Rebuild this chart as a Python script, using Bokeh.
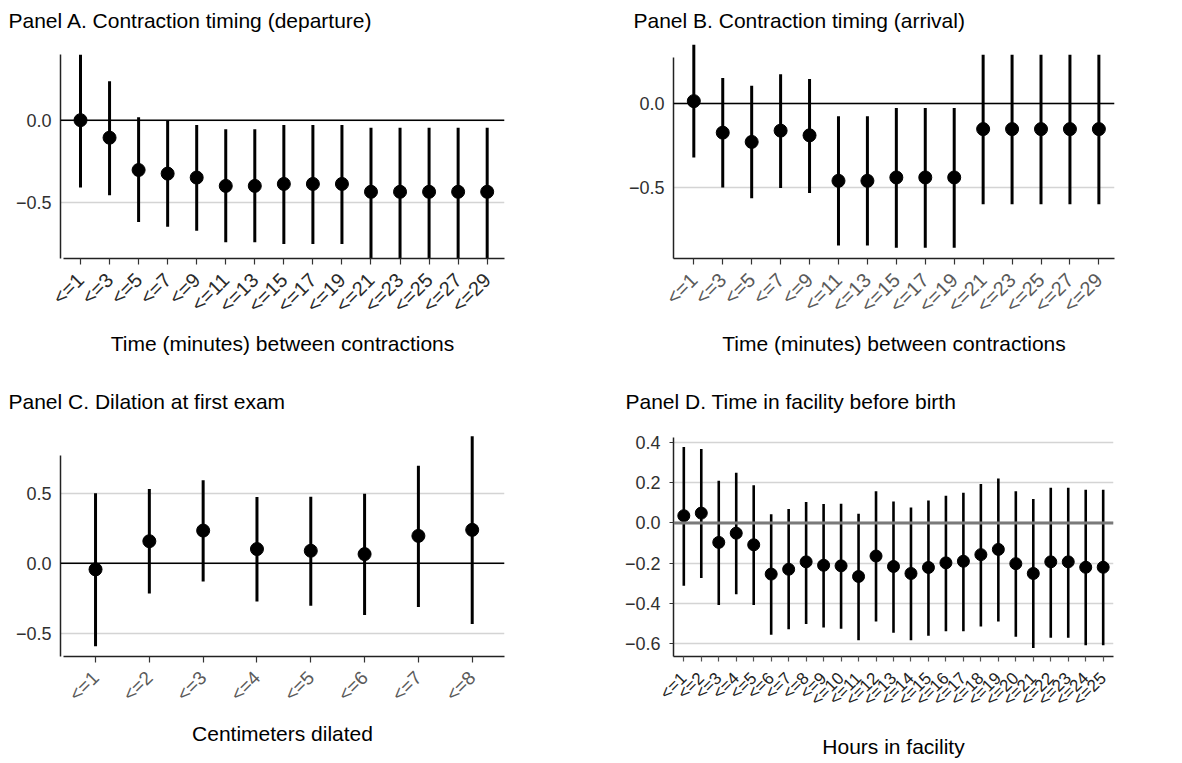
import math
from bokeh.plotting import figure
from bokeh.layouts import column, row
from bokeh.models import Range1d, FixedTicker, Span, ColumnDataSource
from bokeh.embed import file_html
from bokeh.resources import INLINE

# ---------------- data ----------------
a_labels = ["<=1", "<=3", "<=5", "<=7", "<=9", "<=11", "<=13", "<=15", "<=17", "<=19",
            "<=21", "<=23", "<=25", "<=27", "<=29"]
a_est = [0.00, -0.107, -0.304, -0.326, -0.350, -0.401, -0.401, -0.389, -0.389, -0.389,
         -0.437, -0.437, -0.437, -0.437, -0.437]
a_lo = [-0.411, -0.458, -0.622, -0.650, -0.674, -0.745, -0.745, -0.755, -0.755, -0.755,
        -0.844, -0.844, -0.844, -0.844, -0.844]
a_hi = [0.399, 0.237, 0.018, 0.0, -0.030, -0.055, -0.055, -0.030, -0.030, -0.030,
        -0.047, -0.047, -0.047, -0.047, -0.047]

b_labels = a_labels
b_est = [0.014, -0.173, -0.228, -0.161, -0.189, -0.459, -0.459, -0.439, -0.439, -0.439,
         -0.152, -0.152, -0.152, -0.152, -0.152]
b_lo = [-0.321, -0.498, -0.563, -0.502, -0.531, -0.843, -0.843, -0.856, -0.856, -0.856,
        -0.598, -0.598, -0.598, -0.598, -0.598]
b_hi = [0.348, 0.152, 0.106, 0.173, 0.146, -0.075, -0.075, -0.026, -0.026, -0.026,
        0.289, 0.289, 0.289, 0.289, 0.289]

c_labels = ["<=1", "<=2", "<=3", "<=4", "<=5", "<=6", "<=7", "<=8"]
c_est = [-0.043, 0.158, 0.234, 0.102, 0.090, 0.066, 0.196, 0.239]
c_lo = [-0.591, -0.215, -0.130, -0.272, -0.303, -0.369, -0.312, -0.433]
c_hi = [0.501, 0.530, 0.593, 0.473, 0.475, 0.496, 0.697, 0.908]

d_labels = ["<=%d" % h for h in range(1, 26)]
d_est = [0.036, 0.049, -0.097, -0.051, -0.109, -0.255, -0.231, -0.194, -0.211, -0.214,
         -0.267, -0.165, -0.217, -0.252, -0.222, -0.199, -0.191, -0.158, -0.132, -0.203,
         -0.252, -0.194, -0.194, -0.221, -0.221]
d_lo = [-0.313, -0.275, -0.409, -0.356, -0.409, -0.557, -0.530, -0.504, -0.521, -0.527,
        -0.585, -0.491, -0.547, -0.585, -0.563, -0.540, -0.540, -0.517, -0.491, -0.567,
        -0.623, -0.572, -0.572, -0.610, -0.610]
d_hi = [0.379, 0.369, 0.211, 0.250, 0.188, 0.043, 0.069, 0.105, 0.094, 0.096,
        0.046, 0.158, 0.107, 0.077, 0.112, 0.135, 0.150, 0.194, 0.221, 0.158,
        0.119, 0.176, 0.176, 0.165, 0.165]

y_ticks_a = [-0.5, 0.0]
y_ticks_b = [-0.5, 0.0]
y_ticks_c = [-0.5, 0.0, 0.5]
y_ticks_d = [-0.6, -0.4, -0.2, 0.0, 0.2, 0.4]

FONT = "Liberation Sans"


def fmt(v):
    s = "%.1f" % v
    if s.startswith("-"):
        s = "\u2212" + s[1:]
    if s == "\u22120.0":
        s = "0.0"
    return s


def panel(title, labels, est, lo, hi, xlabel, yticks, width, height, mb, xr, yr,
          ybounds, xbounds, title_offset, tick_color, zero_color, zero_width,
          y_tick_out, x_tick_color, x_label_size, x_label_standoff, x_tick_out,
          dot_size, bar_width, title_standoff, label_standoff):
    p = figure(width=width, height=height, output_backend="svg", toolbar_location=None,
               x_range=Range1d(*xr), y_range=Range1d(*yr),
               min_border_left=mb[0], min_border_right=mb[1],
               min_border_top=mb[2], min_border_bottom=mb[3])
    p.outline_line_color = None
    p.background_fill_color = "white"
    p.border_fill_color = "white"

    p.title.text = title
    p.title.align = "left"
    p.title.vertical_align = "top"
    p.title.offset = title_offset
    p.title.standoff = title_standoff
    p.title.text_font = FONT
    p.title.text_font_size = "21px"
    p.title.text_font_style = "normal"
    p.title.text_color = "black"

    xs = list(range(1, len(labels) + 1))
    src = ColumnDataSource(dict(x=xs, est=est, lo=lo, hi=hi))

    # grid
    p.xgrid.visible = False
    p.ygrid.ticker = FixedTicker(ticks=yticks)
    p.ygrid.grid_line_color = "#d4d4d4"
    p.ygrid.grid_line_width = 1.3

    p.add_layout(Span(location=0, dimension="width", line_color=zero_color,
                      line_width=zero_width))

    p.segment(x0="x", y0="lo", x1="x", y1="hi", source=src, line_color="black",
              line_width=bar_width)
    p.scatter(x="x", y="est", source=src, size=dot_size, fill_color="black",
              line_color="black")

    # axes
    xa = p.xaxis[0]
    xa.ticker = FixedTicker(ticks=xs)
    xa.major_label_overrides = {x: l for x, l in zip(xs, labels)}
    xa.major_label_orientation = math.pi / 4
    xa.major_label_text_font = FONT
    xa.major_label_text_font_size = x_label_size
    xa.major_label_text_color = tick_color
    xa.major_label_standoff = x_label_standoff
    xa.minor_tick_line_color = None
    xa.major_tick_in = 0
    xa.major_tick_out = x_tick_out
    xa.major_tick_line_color = x_tick_color
    xa.major_tick_line_width = 1.2
    xa.axis_line_color = "#222222"
    xa.axis_line_width = 1.5
    xa.axis_label = xlabel
    xa.axis_label_text_font = FONT
    xa.axis_label_text_font_size = "21px"
    xa.axis_label_text_font_style = "normal"
    xa.axis_label_text_color = "black"
    xa.axis_label_standoff = label_standoff
    if xbounds is not None:
        xa.bounds = xbounds

    ya = p.yaxis[0]
    ya.ticker = FixedTicker(ticks=yticks)
    ya.major_label_overrides = {t: fmt(t) for t in yticks}
    ya.major_label_text_font = FONT
    ya.major_label_text_font_size = "18px"
    ya.major_label_text_color = "#303030"
    ya.major_label_standoff = 9
    ya.minor_tick_line_color = None
    ya.major_tick_in = 0
    ya.major_tick_out = y_tick_out
    ya.major_tick_line_color = "#333333"
    ya.axis_line_color = "#222222"
    ya.axis_line_width = 1.5
    ya.bounds = ybounds
    return p


pA = panel("Panel A. Contraction timing (departure)", a_labels, a_est, a_lo, a_hi,
           "Time (minutes) between contractions", y_ticks_a,
           620, 370, (60, 116, 40, 112), (0.3115, 15.596), (-0.844, 0.480),
           (-0.844, 0.399), (0.4, 15.6), -52, "#2a2a2a", "black", 1.5, 0, "#333333",
           "20px", 12, 6, 13, 3, 16, 5)
pB = panel("Panel B. Contraction timing (arrival)", b_labels, b_est, b_lo, b_hi,
           "Time (minutes) between contractions", y_ticks_b,
           560, 370, (53, 66, 40, 112), (0.298, 15.54), (-0.920, 0.368),
           (-0.920, 0.276), None, -40, "#5a5a5a", "black", 1.5, 0, "#333333",
           "20px", 12, 6, 13, 3, 16, 5)
pC = panel("Panel C. Dilation at first exam", c_labels, c_est, c_lo, c_hi,
           "Centimeters dilated", y_ticks_c,
           620, 391, (60, 116, 63, 103), (0.349, 8.6), (-0.665, 0.927),
           (-0.665, 0.773), (0.4, 8.6), -52, "#5a5a5a", "black", 1.5, 0, "#333333",
           "19px", 12, 6, 13, 3, 38, 6)
pD = panel("Panel D. Time in facility before birth", d_labels, d_est, d_lo, d_hi,
           "Hours in facility", y_ticks_d,
           560, 391, (53, 67, 63, 103), (0.41, 25.59), (-0.666, 0.446),
           (-0.666, 0.425), None, -48, "#222222", "#7a7a7a", 3, 4, "#555555",
           "17px", 14, 5, 12, 2.6, 38, 16)

layout = column(row(pA, pB), row(pC, pD))
open("out.html", "w").write(file_html(layout, INLINE))
